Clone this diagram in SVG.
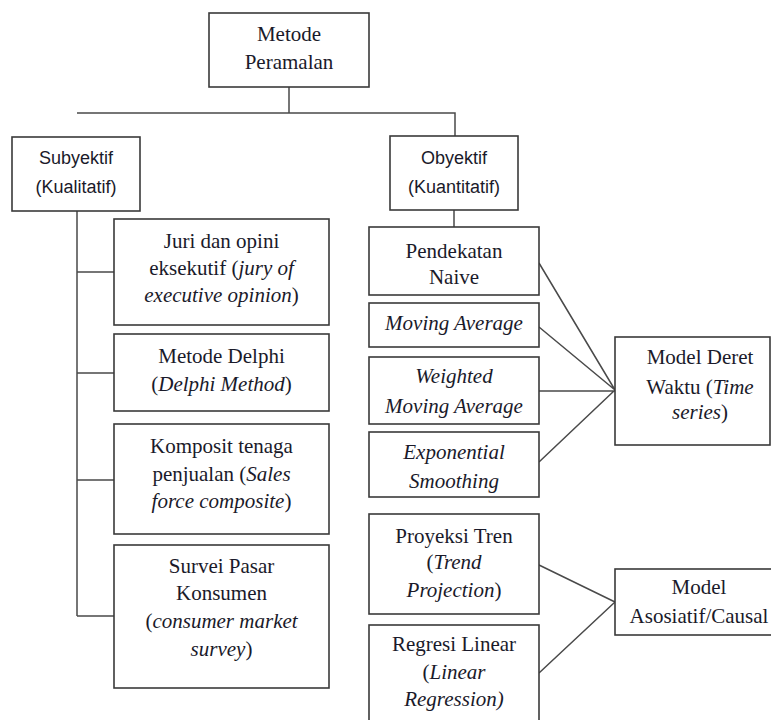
<svg xmlns="http://www.w3.org/2000/svg" width="771" height="720" viewBox="0 0 771 720">
<style>
.box{fill:#fff;stroke:#3a3a3a;stroke-width:1.6}
.con{fill:none;stroke:#4a4a4a;stroke-width:1.5}
.s{font-family:"Liberation Serif","Times New Roman",serif;font-size:21px;fill:#1a1a2a;text-anchor:middle}
.ss{font-family:"Liberation Sans",Arial,sans-serif;font-size:18px;fill:#1a1a2a;text-anchor:middle}
.i{font-style:italic}
</style>
<rect width="771" height="720" fill="#fff"/>
<g id="connectors">
<path class="con" d="M289 87V113M77 113H455V136M77 211V616M77 272H114M77 373H114M77 480H114M77 616H114M454 210V227"/>
<path class="con" d="M539 263L615 390M539 327L615 390M539 391H615M539 462L615 390M539 565L615 602M539 673L615 602"/>
</g>
<g id="n-metode"><rect class="box" x="209" y="13" width="160" height="74"/><text class="s" x="289" y="41">Metode</text><text class="s" x="289" y="69">Peramalan</text></g>
<g id="n-subyektif"><rect class="box" x="12" y="137" width="128" height="74"/><text class="ss" x="76" y="164">Subyektif</text><text class="ss" x="76" y="193">(Kualitatif)</text></g>
<g id="n-obyektif"><rect class="box" x="390" y="136" width="128" height="74"/><text class="ss" x="454" y="164">Obyektif</text><text class="ss" x="454" y="193">(Kuantitatif)</text></g>
<g id="n-juri"><rect class="box" x="114" y="219" width="215" height="106"/><text class="s" x="221.5" y="248">Juri dan opini</text><text class="s" x="221.5" y="275">eksekutif (<tspan class="i">jury of</tspan></text><text class="s" x="221.5" y="302"><tspan class="i">executive opinion</tspan>)</text></g>
<g id="n-delphi"><rect class="box" x="114" y="334" width="215" height="77"/><text class="s" x="221.5" y="363">Metode Delphi</text><text class="s" x="221.5" y="391">(<tspan class="i">Delphi Method</tspan>)</text></g>
<g id="n-komposit"><rect class="box" x="114" y="424" width="215" height="110"/><text class="s" x="221.5" y="453">Komposit tenaga</text><text class="s" x="221.5" y="481">penjualan (<tspan class="i">Sales</tspan></text><text class="s" x="221.5" y="508"><tspan class="i">force composite</tspan>)</text></g>
<g id="n-survei"><rect class="box" x="114" y="545" width="215" height="143"/><text class="s" x="221.5" y="573">Survei Pasar</text><text class="s" x="221.5" y="600">Konsumen</text><text class="s" x="221.5" y="628">(<tspan class="i">consumer market</tspan></text><text class="s" x="221.5" y="656"><tspan class="i">survey</tspan>)</text></g>
<g id="n-naive"><rect class="box" x="369" y="227" width="170" height="68"/><text class="s" x="454" y="258">Pendekatan</text><text class="s" x="454" y="284">Naive</text></g>
<g id="n-ma"><rect class="box" x="369" y="303" width="170" height="44"/><text class="s i" x="454" y="330">Moving Average</text></g>
<g id="n-wma"><rect class="box" x="369" y="357" width="170" height="67"/><text class="s i" x="454" y="383">Weighted</text><text class="s i" x="454" y="413">Moving Average</text></g>
<g id="n-es"><rect class="box" x="369" y="432" width="170" height="65"/><text class="s i" x="454" y="459">Exponential</text><text class="s i" x="454" y="488">Smoothing</text></g>
<g id="n-tren"><rect class="box" x="369" y="514" width="170" height="100"/><text class="s" x="454" y="543">Proyeksi Tren</text><text class="s" x="454" y="569">(<tspan class="i">Trend</tspan></text><text class="s" x="454" y="597"><tspan class="i">Projection</tspan>)</text></g>
<g id="n-regresi"><rect class="box" x="369" y="625" width="170" height="105"/><text class="s" x="454" y="651">Regresi Linear</text><text class="s" x="454" y="679">(<tspan class="i">Linear</tspan></text><text class="s i" x="454" y="706">Regression)</text></g>
<g id="n-deret"><rect class="box" x="615" y="337" width="155" height="108"/><text class="s" x="700" y="364">Model Deret</text><text class="s" x="700" y="394">Waktu (<tspan class="i">Time</tspan></text><text class="s" x="700" y="419"><tspan class="i">series</tspan>)</text></g>
<g id="n-asosiatif"><rect class="box" x="615" y="569" width="170" height="66"/><text class="s" x="699" y="594">Model</text><text class="s" x="699" y="623">Asosiatif/Causal</text></g>
</svg>
